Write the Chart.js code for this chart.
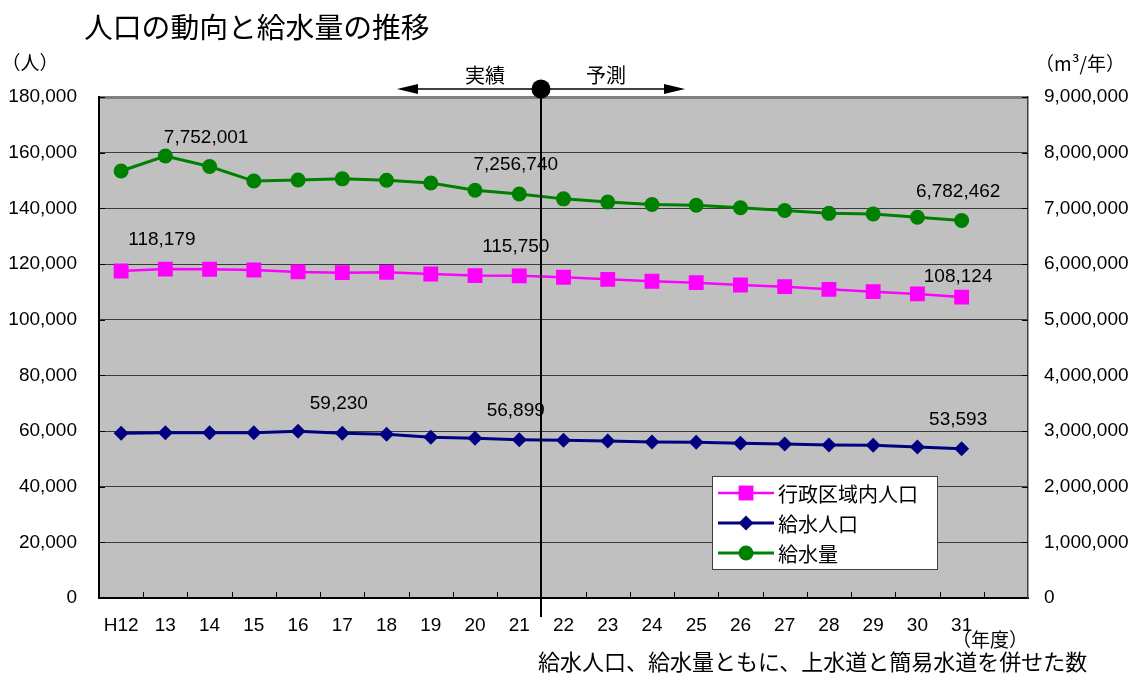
<!DOCTYPE html>
<html lang="ja">
<head>
<meta charset="utf-8">
<title>人口の動向と給水量の推移</title>
<script src="https://cdn.jsdelivr.net/npm/chart.js@4.4.1/dist/chart.umd.min.js"></script>
<style>
html,body{margin:0;padding:0;background:#fff;}
#wrap{width:1131px;height:675px;}
</style>
</head>
<body>
<div id="wrap"><canvas id="c" width="1131" height="675"></canvas></div>
<script>
// 年度（最後の空欄は右端の余白）
const years = ['H12','13','14','15','16','17','18','19','20','21','22','23','24','25','26','27','28','29','30','31',''];

// 行政区域内人口（人）
const areaPopulation = [117500, 118179, 118100, 117850, 117150, 116900, 117000, 116400, 115850, 115750,
                        115250, 114500, 113800, 113300, 112450, 111850, 110900, 110050, 109250, 108124];
// 給水人口（人）
const servedPopulation = [59200, 59350, 59350, 59400, 59900, 59230, 58800, 57750, 57400, 56899,
                          56650, 56400, 56050, 55950, 55600, 55300, 54950, 54850, 54250, 53593];
// 給水量（m3/年）
const supplyVolume = [7670000, 7940000, 7752001, 7490000, 7510000, 7530000, 7505000, 7455000, 7325000, 7256740,
                      7170000, 7115000, 7070000, 7055000, 7010000, 6960000, 6910000, 6900000, 6840000, 6782462];

// 数値を表示する年度の位置
const areaLabelAt = [1, 9, 19];
const servedLabelAt = [5, 9, 19];
const supplyLabelAt = [2, 9, 19];

// 目盛
const leftTicks = [0, 20000, 40000, 60000, 80000, 100000, 120000, 140000, 160000, 180000];
const rightTicks = [0, 1000000, 2000000, 3000000, 4000000, 5000000, 6000000, 7000000, 8000000, 9000000];

// 予測の開始位置（H22）
const forecastStart = 10;

const LATIN = "'Liberation Sans','Noto Sans CJK JP',sans-serif";
const JP = "'Noto Sans CJK JP','Liberation Sans',sans-serif";
const fmt = v => v.toLocaleString('en-US');

Chart.defaults.font.family = LATIN;
Chart.defaults.font.size = 19;
Chart.defaults.color = '#000';

const datasets = [
  {
    label: '行政区域内人口', data: areaPopulation, yAxisID: 'y', valueLabels: areaLabelAt,
    borderColor: '#ff00ff', backgroundColor: '#ff00ff', borderWidth: 2.5,
    pointStyle: 'rect', pointRadius: 10.5, pointBorderWidth: 0, pointHoverRadius: 10.5
  },
  {
    label: '給水人口', data: servedPopulation, yAxisID: 'y', valueLabels: servedLabelAt,
    borderColor: '#000080', backgroundColor: '#000080', borderWidth: 3,
    pointStyle: 'rectRot', pointRadius: 7.5, pointBorderWidth: 0, pointHoverRadius: 7.5
  },
  {
    label: '給水量', data: supplyVolume, yAxisID: 'y2', valueLabels: supplyLabelAt,
    borderColor: '#008000', backgroundColor: '#008000', borderWidth: 3,
    pointStyle: 'circle', pointRadius: 7.5, pointBorderWidth: 0, pointHoverRadius: 7.5
  }
];

const decorations = {
  id: 'decorations',
  beforeDraw(chart) {
    const {ctx, chartArea: a} = chart;
    ctx.save();
    ctx.fillStyle = '#c0c0c0';
    ctx.fillRect(a.left, a.top, a.right - a.left, a.bottom - a.top);
    ctx.restore();
  },
  afterDatasetsDraw(chart) {
    const {ctx} = chart;
    ctx.save();
    ctx.font = `19px ${LATIN}`;
    ctx.fillStyle = '#000';
    ctx.textAlign = 'center';
    ctx.textBaseline = 'middle';
    chart.data.datasets.forEach((ds, di) => {
      const meta = chart.getDatasetMeta(di);
      ds.valueLabels.forEach(i => {
        const p = meta.data[i];
        const last = i === ds.data.length - 1 && di === 0;
        ctx.fillText(fmt(ds.data[i]), p.x - 3.5, p.y - (last ? 20 : 29));
      });
    });
    ctx.restore();
  },
  afterDraw(chart) {
    const {ctx, chartArea: a, scales} = chart;
    const x = scales.x, y = scales.y, y2 = scales.y2;
    ctx.save();

    // 内向きの目盛線
    ctx.strokeStyle = '#000';
    ctx.lineWidth = 1;
    ctx.beginPath();
    leftTicks.forEach(v => {
      const py = Math.round(y.getPixelForValue(v)) + 0.5;
      ctx.moveTo(a.left, py); ctx.lineTo(a.left + 6, py);
    });
    rightTicks.forEach(v => {
      const py = Math.round(y2.getPixelForValue(v)) + 0.5;
      ctx.moveTo(a.right - 6, py); ctx.lineTo(a.right, py);
    });
    for (let i = 1; i < years.length; i++) {
      const px = Math.round((x.getPixelForValue(i - 1) + x.getPixelForValue(i)) / 2) + 0.5;
      ctx.moveTo(px, a.bottom); ctx.lineTo(px, a.bottom - 6);
    }
    ctx.stroke();

    // 実績／予測の区切り
    const sx = Math.round((x.getPixelForValue(forecastStart - 1) + x.getPixelForValue(forecastStart)) / 2);
    const ay = a.top - 8;
    ctx.lineWidth = 2;
    ctx.beginPath();
    ctx.moveTo(sx, ay); ctx.lineTo(sx, a.bottom + 19);
    ctx.stroke();
    ctx.lineWidth = 1.5;
    ctx.beginPath();
    ctx.moveTo(sx - 124, ay); ctx.lineTo(sx + 124, ay);
    ctx.stroke();
    ctx.fillStyle = '#000';
    ctx.beginPath();
    ctx.moveTo(sx - 144, ay); ctx.lineTo(sx - 123, ay - 5); ctx.lineTo(sx - 123, ay + 5); ctx.closePath();
    ctx.moveTo(sx + 144, ay); ctx.lineTo(sx + 123, ay - 5); ctx.lineTo(sx + 123, ay + 5); ctx.closePath();
    ctx.fill();
    ctx.beginPath();
    ctx.arc(sx, ay, 9.5, 0, Math.PI * 2);
    ctx.fill();
    ctx.font = `20px ${JP}`;
    ctx.textAlign = 'center';
    ctx.textBaseline = 'middle';
    ctx.fillText('実績', sx - 56, ay - 14);
    ctx.fillText('予測', sx + 65, ay - 14);

    // 見出し・単位・注記
    ctx.textAlign = 'left';
    ctx.font = `28.8px ${JP}`;
    ctx.fillText('人口の動向と給水量の推移', 84, 27);
    ctx.font = `19px ${JP}`;
    ctx.textAlign = 'center';
    ctx.fillText('（人）', 30, 63);
    ctx.fillText('（m³/年）', 1080, 64);
    ctx.fillText('（年度）', 990, 640);
    ctx.textAlign = 'left';
    ctx.font = `22px ${JP}`;
    ctx.fillText('給水人口、給水量ともに、上水道と簡易水道を併せた数', 538, 662);

    // 凡例
    const lx = 712, ly = 476, lw = 225, lh = 93;
    ctx.fillStyle = '#fff';
    ctx.fillRect(lx, ly, lw, lh);
    ctx.strokeStyle = '#404040';
    ctx.lineWidth = 1;
    ctx.strokeRect(lx + 0.5, ly + 0.5, lw, lh);
    chart.data.datasets.forEach((ds, i) => {
      const ry = ly + 17 + i * 30;
      ctx.strokeStyle = ds.borderColor;
      ctx.lineWidth = ds.borderWidth;
      ctx.beginPath();
      ctx.moveTo(lx + 6, ry); ctx.lineTo(lx + 62, ry);
      ctx.stroke();
      ctx.fillStyle = ds.backgroundColor;
      Chart.helpers.drawPoint(ctx, {pointStyle: ds.pointStyle, radius: ds.pointRadius, borderWidth: 0, rotation: 0}, lx + 34, ry);
      ctx.fillStyle = '#000';
      ctx.font = `20px ${JP}`;
      ctx.textBaseline = 'middle';
      ctx.fillText(ds.label, lx + 66, ry + 1);
    });
    ctx.restore();
  }
};

new Chart(document.getElementById('c'), {
  type: 'line',
  data: {labels: years, datasets},
  options: {
    responsive: false,
    animation: false,
    layout: {padding: {top: 97, left: 0, right: 0, bottom: 0}},
    elements: {line: {tension: 0}},
    plugins: {legend: {display: false}, title: {display: false}, tooltip: {enabled: false}},
    scales: {
      x: {
        type: 'category',
        offset: true,
        grid: {display: false, drawTicks: false},
        border: {display: true, color: '#000', width: 2},
        ticks: {padding: 16, maxRotation: 0, autoSkip: false, color: '#000'},
        afterFit(s) { s.height = 77; }
      },
      y: {
        position: 'left',
        min: 0, max: 180000,
        afterBuildTicks(s) { s.ticks = leftTicks.map(v => ({value: v})); },
        grid: {
          drawTicks: false,
          color: c => c.tick && c.tick.value === 180000 ? '#808080' : '#3a3a3a',
          lineWidth: c => c.tick && c.tick.value === 180000 ? 3 : 1
        },
        border: {display: true, color: '#000', width: 2},
        ticks: {padding: 22, callback: v => fmt(v), color: '#000'},
        afterFit(s) { s.width = 99; }
      },
      y2: {
        position: 'right',
        min: 0, max: 9000000,
        afterBuildTicks(s) { s.ticks = rightTicks.map(v => ({value: v})); },
        grid: {display: false, drawTicks: false},
        border: {display: true, color: '#404040', width: 1.5},
        ticks: {padding: 16, callback: v => fmt(v), color: '#000'},
        afterFit(s) { s.width = 103; }
      }
    }
  },
  plugins: [decorations]
});
</script>
</body>
</html>
